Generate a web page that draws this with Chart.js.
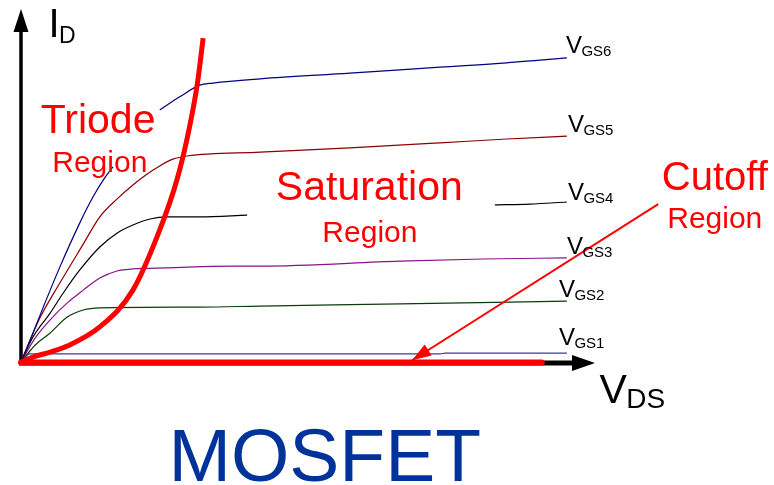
<!DOCTYPE html>
<html>
<head>
<meta charset="utf-8">
<script src="https://cdn.jsdelivr.net/npm/chart.js@4.4.2/dist/chart.umd.min.js"></script>
<style>
  html, body { margin: 0; padding: 0; background: #fff; }
  canvas { display: block; }
</style>
</head>
<body>
<canvas id="mosfetChart" width="774" height="485"></canvas>
<script>
// output characteristics: V_DS on x, I_D on y (arbitrary units)
// null = where the curve is hidden under a label in the original
const curveNames = ['GS6', 'GS5', 'GS4', 'GS3', 'GS2', 'GS1'];

const vgs6Vds = [0, 0.21, 0.39, 0.68, 1.03, 1.26, 1.44, 1.61, null, 2.43, 2.78, 3.13, 3.36, 4.19, 5.76, 7.34, 8.51, 9.09, 9.56];
const vgs6Id  = [0, 0.82, 1.55, 2.68, 3.93, 4.66, 5.14, 5.51, null, 7.12, 7.49, 7.82, 7.88, 8.00, 8.16, 8.33, 8.45, 8.53, 8.59];

const vgs5Vds = [0, 0.33, 0.68, 1.09, 1.38, 1.68, 1.96, 2.21, 2.40, 2.66, 2.91, 4.19, 5.76, 7.34, 8.51, 9.56];
const vgs5Id  = [0, 1.24, 2.23, 3.33, 4.10, 4.60, 5.00, 5.31, 5.51, 5.73, 5.82, 5.93, 6.05, 6.19, 6.30, 6.38];

const vgs4Vds = [0, 0.21, 0.51, 0.74, 1.03, 1.38, 1.68, 1.96, 2.26, 2.56, 3.13, 3.96, null, 8.30, 8.91, 9.56];
const vgs4Id  = [0, 0.71, 1.38, 1.95, 2.60, 3.25, 3.64, 3.87, 4.04, 4.10, 4.10, 4.15, null, 4.44, 4.46, 4.52];

const vgs3Vds = [0, 0.25, 0.51, 0.81, 1.09, 1.38, 1.68, 1.96, 2.56, 3.71, 4.19, 6.64, 8.09, 9.56];
const vgs3Id  = [0, 0.68, 1.19, 1.67, 2.03, 2.37, 2.57, 2.63, 2.66, 2.71, 2.71, 2.85, 2.91, 2.94];

const vgs2Vds = [0, 0.25, 0.51, 0.81, 1.09, 1.38, 3.13, 4.19, 6.64, 9.56];
const vgs2Id  = [0, 0.48, 0.82, 1.27, 1.47, 1.53, 1.55, 1.58, 1.64, 1.72];

const vgs1Vds = [0, 0.15, 7.34, 7.43, 9.56];
const vgs1Id  = [0, 0.23, 0.23, 0.25, 0.25];

// triode / saturation boundary and the cutoff line
const triodeVds = [0, 0.21, 0.51, 0.81, 1.38, 1.96, 2.43, 2.73, 2.93, 3.09, 3.19];
const triodeId  = [0, 0.14, 0.28, 0.45, 0.99, 2.03, 3.73, 5.14, 6.47, 7.88, 9.15];
const cutoffVds = [0, 9.12];
const cutoffId  = [-0.015, -0.015];
const pointerVds = [11.16, 6.85];
const pointerId  = [4.46, 0.05];

const toPoints = (xs, ys) => xs.map((v, i) => ({ x: v === null ? NaN : v, y: ys[i] }));

const curveColors = ['#000080', '#8b0000', '#000000', '#8a118a', '#0b3d0b', '#3a3aa0'];
const curveData = [
  [vgs6Vds, vgs6Id], [vgs5Vds, vgs5Id], [vgs4Vds, vgs4Id],
  [vgs3Vds, vgs3Id], [vgs2Vds, vgs2Id], [vgs1Vds, vgs1Id]
];
// label offset (px) from the end of each curve
const labelOffsets = [[-1, -5], [1, -4.5], [1, -2], [0, -4], [-8, -4.5], [-8, -8]];

const font = '"Liberation Sans", Arial, sans-serif';

const drawSub = (ctx, main, sub, x, y, size, subSize, shift, color) => {
  ctx.fillStyle = color;
  ctx.textAlign = 'left';
  ctx.textBaseline = 'alphabetic';
  ctx.font = `${size}px ${font}`;
  ctx.fillText(main, x, y);
  const w = ctx.measureText(main).width;
  ctx.font = `${subSize}px ${font}`;
  ctx.fillText(sub, x + w - 0.5, y + shift);
};

const regionTexts = [
  { text: 'Triode', x: 1.35, y: 6.46, size: 41 },
  { text: 'Region', x: 1.38, y: 5.37, size: 30 },
  { text: 'Saturation', x: 6.10, y: 4.58, size: 41 },
  { text: 'Region', x: 6.11, y: 3.40, size: 30 },
  { text: 'Cutoff', x: 12.15, y: 4.86, size: 40 },
  { text: 'Region', x: 12.15, y: 3.79, size: 30 }
];

const mosfetDecor = {
  id: 'mosfetDecor',
  beforeDatasetsDraw(chart) {
    const { ctx, scales: { x, y } } = chart;
    const x0 = x.getPixelForValue(0);
    const y0 = y.getPixelForValue(0);
    const xEnd = x.getPixelForValue(x.max);
    const yTop = y.getPixelForValue(y.max);
    ctx.save();
    ctx.fillStyle = '#000';
    ctx.strokeStyle = '#000';
    ctx.lineWidth = 3.5;
    ctx.beginPath();
    ctx.moveTo(x0, y0 + 3);
    ctx.lineTo(x0, yTop + 20);
    ctx.stroke();
    ctx.beginPath();
    ctx.moveTo(x0, yTop + 1);
    ctx.lineTo(x0 - 7.5, yTop + 24);
    ctx.lineTo(x0 + 7.5, yTop + 24);
    ctx.closePath();
    ctx.fill();
    ctx.lineWidth = 5;
    ctx.beginPath();
    ctx.moveTo(x0 - 2, y0 + 1);
    ctx.lineTo(xEnd - 18, y0 + 1);
    ctx.stroke();
    ctx.beginPath();
    ctx.moveTo(xEnd + 3, y0 + 1);
    ctx.lineTo(xEnd - 20, y0 - 7);
    ctx.lineTo(xEnd - 20, y0 + 9);
    ctx.closePath();
    ctx.fill();
    ctx.restore();
  },
  afterDatasetsDraw(chart) {
    const { ctx, scales: { x, y } } = chart;
    ctx.save();

    // arrow head on the cutoff pointer
    const pts = chart.getDatasetMeta(2).data;
    const a = pts[0], b = pts[pts.length - 1];
    const ang = Math.atan2(b.y - a.y, b.x - a.x);
    const len = 19, half = 6.5;
    ctx.fillStyle = '#ff0000';
    ctx.beginPath();
    ctx.moveTo(b.x, b.y);
    ctx.lineTo(b.x - len * Math.cos(ang) + half * Math.sin(ang), b.y - len * Math.sin(ang) - half * Math.cos(ang));
    ctx.lineTo(b.x - len * Math.cos(ang) - half * Math.sin(ang), b.y - len * Math.sin(ang) + half * Math.cos(ang));
    ctx.closePath();
    ctx.fill();

    // V_GS labels at the curve ends
    curveData.forEach(([xs, ys], i) => {
      const px = x.getPixelForValue(xs[xs.length - 1]) + labelOffsets[i][0];
      const py = y.getPixelForValue(ys[ys.length - 1]) + labelOffsets[i][1];
      drawSub(ctx, 'V', curveNames[i], px, py, 24, 15, 3, '#000');
    });

    // axis titles
    drawSub(ctx, 'I', 'D', x.getPixelForValue(0.48), y.getPixelForValue(9.19), 40, 23, 6, '#000');
    drawSub(ctx, 'V', 'DS', x.getPixelForValue(10.13), y.getPixelForValue(-1.16), 41, 28, 5, '#000');

    // region names
    ctx.fillStyle = '#ff0000';
    ctx.textAlign = 'center';
    regionTexts.forEach(t => {
      ctx.font = `${t.size}px ${font}`;
      ctx.fillText(t.text, x.getPixelForValue(t.x), y.getPixelForValue(t.y));
    });

    ctx.fillStyle = '#003399';
    ctx.font = `75px ${font}`;
    ctx.fillText('MOSFET', x.getPixelForValue(5.32), y.getPixelForValue(-3.36));
    ctx.restore();
  }
};

const redSets = [
  { data: toPoints(triodeVds, triodeId), borderColor: '#ff0000', borderWidth: 5, cubicInterpolationMode: 'monotone' },
  { data: toPoints(cutoffVds, cutoffId), borderColor: '#ff0000', borderWidth: 6, borderCapStyle: 'round', clip: false },
  { data: toPoints(pointerVds, pointerId), borderColor: '#ff0000', borderWidth: 2, clip: false }
];

const curveSets = curveData.map(([xs, ys], i) => ({
  data: toPoints(xs, ys),
  borderColor: curveColors[i],
  borderWidth: 1.2,
  cubicInterpolationMode: 'monotone'
}));

new Chart(document.getElementById('mosfetChart'), {
  type: 'line',
  data: { datasets: [...redSets, ...curveSets] },
  options: {
    responsive: false,
    animation: false,
    events: [],
    spanGaps: false,
    elements: { point: { radius: 0 } },
    layout: { padding: { left: 21, right: 182, top: 8, bottom: 123 } },
    plugins: { legend: { display: false }, tooltip: { enabled: false } },
    scales: {
      x: { type: 'linear', min: 0, max: 10, display: false },
      y: { type: 'linear', min: 0, max: 10, display: false }
    }
  },
  plugins: [mosfetDecor]
});
</script>
</body>
</html>
